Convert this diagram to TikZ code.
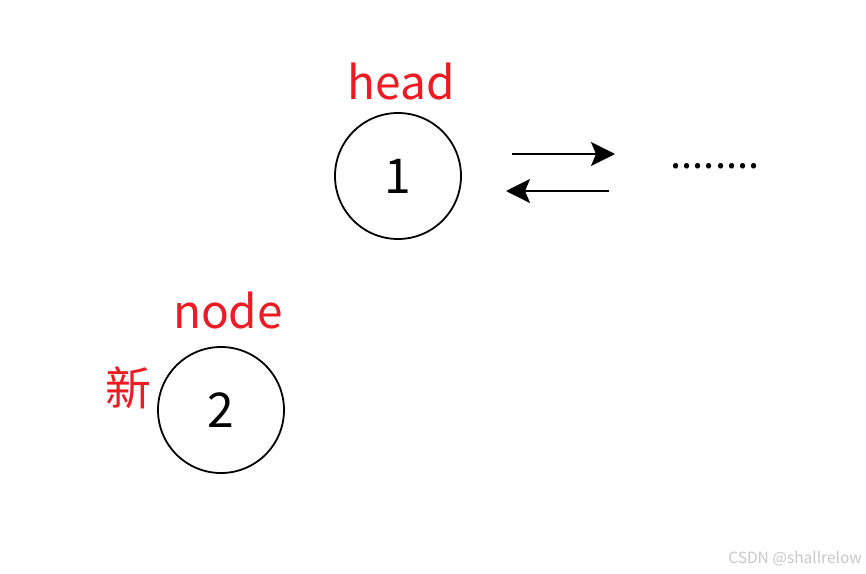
\documentclass[tikz,border=0pt]{standalone}
\usepackage{fontspec}
\setmainfont{Noto Sans CJK SC}
\usepackage{xcolor}
\usetikzlibrary{arrows.meta,positioning}
\definecolor{labelred}{RGB}{237, 28, 36}
\definecolor{markgray}{RGB}{200, 200, 200}

\begin{document}
\begin{tikzpicture}[x=1pt, y=-1pt,
    listnode/.style={circle, draw=black, line width=1.8pt, minimum size=126pt, inner sep=0pt, font=\fontsize{48}{48}\selectfont},
    redlabel/.style={color=labelred, font=\fontsize{46}{46}\selectfont, inner sep=0pt},
    linkarrow/.style={line width=2.2pt, -{Stealth[length=24pt, width=24pt, inset=5pt]}}]
    \useasboundingbox (0,0) rectangle (866,573);
    % list nodes
    \node[listnode] (head) at (398,176) {1};
    \node[listnode] (newnode) at (221,410) {2};
    % labels
    \node[redlabel, anchor=base] (headlbl) at (401,99) {head};
    \node[redlabel, anchor=base] (nodelbl) at (228,328) {node};
    \node[redlabel, anchor=base] (xinlbl) at (128,405) {新};
    % links to the rest of the list
    \coordinate (fwdA) at (512,154);
    \coordinate (fwdB) at (615,154);
    \coordinate (bckA) at (609,191);
    \coordinate (bckB) at (506,191);
    \draw[linkarrow] (fwdA) -- (fwdB);
    \draw[linkarrow] (bckA) -- (bckB);
    \node[font=\fontsize{40}{40}\selectfont, anchor=base, inner sep=0pt] (rest) at (715,168) {........};
    % watermark
    \node[color=markgray, font=\fontsize{15.5}{15.5}\selectfont, anchor=base east, inner sep=0pt] (mark) at (862,563) {CSDN @shallrelow};
\end{tikzpicture}
\end{document}
